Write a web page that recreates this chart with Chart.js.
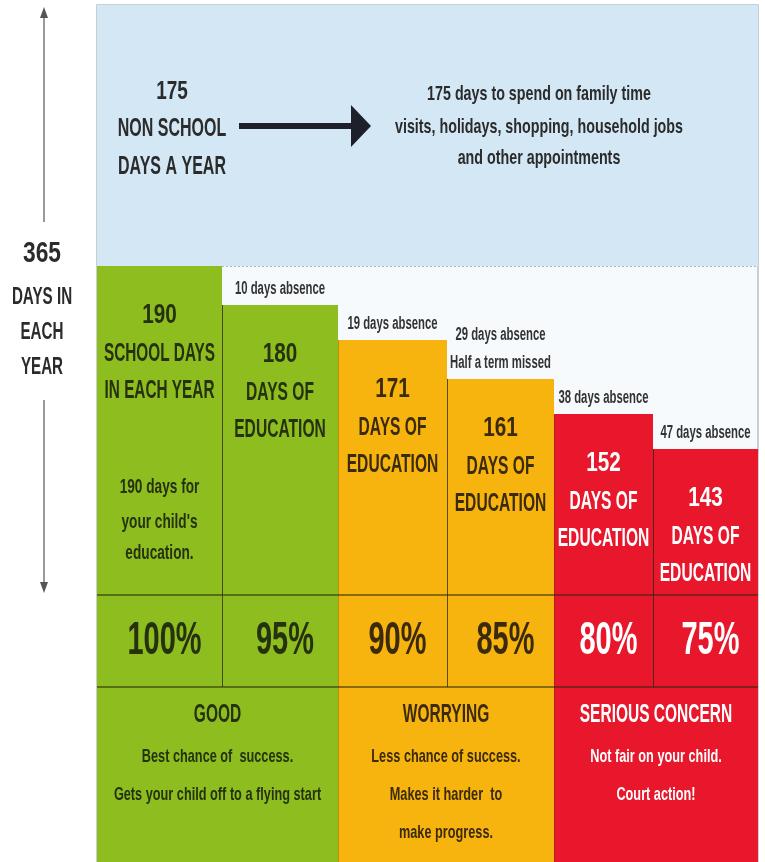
<!DOCTYPE html>
<html>
<head>
<meta charset="utf-8">
<script src="https://cdn.jsdelivr.net/npm/chart.js@4.4.1/dist/chart.umd.min.js"></script>
<style>
  html, body { margin: 0; padding: 0; background: #ffffff; }
  #wrap { width: 765px; height: 862px; }
</style>
</head>
<body>
<div id="wrap"><canvas id="attendance" width="765" height="862"></canvas></div>
<script>
// chart values
const daysOfEducation = [190, 180, 171, 161, 152, 143]
const absenceDays = [0, 10, 19, 29, 38, 47]
const attendance = ['100%', '95%', '90%', '85%', '80%', '75%']
const nonSchoolDays = 175
const yearDays = 365
const bands = ['GOOD', 'WORRYING', 'SERIOUS CONCERN']
const bandNotes = [
    ['Best chance of  success.', 'Gets your child off to a flying start'],
    ['Less chance of success.', 'Makes it harder  to', 'make progress.'],
    ['Not fair on your child.', 'Court action!']
]

// layout
const colWeights = [125, 116, 109, 107, 99, 105]
const colColors = ['#8dbd1e', '#8dbd1e', '#f7b40f', '#f7b40f', '#e8172b', '#e8172b']
const textColors = ['#26320f', '#26320f', '#3b2a0c', '#3b2a0c', '#ffffff', '#ffffff']
const FONT = '"Liberation Sans", Arial, sans-serif'

const edges = [0]
for (let w of colWeights) edges.push(edges[edges.length - 1] + w)
const total = edges[edges.length - 1]

const datasets = []
// non school days area above the school year
datasets.push({
    data: [{x: 0, y: daysOfEducation[0]}, {x: total, y: daysOfEducation[0]}],
    backgroundColor: '#d3e7f5', borderWidth: 0, pointRadius: 0, fill: 'end'
})
for (let i = 0; i < daysOfEducation.length; i++) {
    datasets.push({
        data: [{x: edges[i], y: daysOfEducation[i]}, {x: edges[i + 1], y: daysOfEducation[i]}],
        backgroundColor: colColors[i], borderWidth: 0, pointRadius: 0, fill: 'start'
    })
}
// dotted line at the school year level
datasets.push({
    data: [{x: edges[1], y: daysOfEducation[0]}, {x: total, y: daysOfEducation[0]}],
    borderColor: '#9aa3aa', borderWidth: 1.5, borderDash: [2, 2], pointRadius: 0, fill: false
})

// condensed text: squeeze the font horizontally
function text(ctx, str, x, y, size, color, sq) {
    ctx.save()
    ctx.font = 'bold ' + size + 'px ' + FONT
    ctx.fillStyle = color
    ctx.textAlign = 'center'
    ctx.textBaseline = 'middle'
    ctx.translate(x, y)
    ctx.scale(sq || 0.6, 1)
    ctx.fillText(str, 0, 0)
    ctx.restore()
}

const backdrop = {
    id: 'backdrop',
    beforeDatasetsDraw(chart) {
        const {ctx, chartArea: a} = chart
        const ys = chart.scales.y
        ctx.save()
        ctx.fillStyle = '#f7fafc'
        ctx.fillRect(a.left, a.top, a.right - a.left, ys.getPixelForValue(daysOfEducation[5]) - a.top)
        ctx.strokeStyle = '#b9c0c6'
        ctx.lineWidth = 1.5
        ctx.strokeRect(a.left, a.top, a.right - a.left, a.bottom)
        ctx.restore()
    }
}

const labels = {
    id: 'labels',
    afterDatasetsDraw(chart) {
        const {ctx, chartArea: a} = chart
        const xs = chart.scales.x, ys = chart.scales.y
        const px = v => xs.getPixelForValue(v)
        ctx.save()
        const pctTop = 595, pctBottom = 687

        // separators
        for (let i = 1; i < 6; i++) {
            const x = Math.round(px(edges[i])) + 0.5
            const top = ys.getPixelForValue(daysOfEducation[i])
            const inner = i % 2 == 1
            ctx.strokeStyle = inner ? 'rgba(40,40,20,0.75)' : 'rgba(60,50,20,0.3)'
            ctx.lineWidth = 1
            ctx.beginPath(); ctx.moveTo(x, top); ctx.lineTo(x, inner ? pctBottom : a.bottom); ctx.stroke()
        }
        ctx.strokeStyle = 'rgba(40,40,20,0.7)'
        ctx.lineWidth = 1.5
        for (let y of [pctTop, pctBottom]) {
            ctx.beginPath(); ctx.moveTo(a.left, y); ctx.lineTo(a.right, y); ctx.stroke()
        }

        // columns
        for (let i = 0; i < 6; i++) {
            const cx = (px(edges[i]) + px(edges[i + 1])) / 2
            const top = ys.getPixelForValue(daysOfEducation[i])
            const c = textColors[i]
            text(ctx, String(daysOfEducation[i]), cx, top + 49, 28, c, 0.74)
            if (i == 0) {
                text(ctx, 'SCHOOL DAYS', cx, top + 88, 26, c, 0.59)
                text(ctx, 'IN EACH YEAR', cx, top + 125, 26, c, 0.59)
                text(ctx, '190 days for', cx, top + 221, 21, c, 0.65)
                text(ctx, "your child's", cx, top + 256, 21, c, 0.65)
                text(ctx, 'education.', cx, top + 287, 21, c, 0.65)
            } else {
                text(ctx, 'DAYS OF', cx, top + 88, 26, c, 0.6)
                text(ctx, 'EDUCATION', cx, top + 125, 26, c, 0.6)
                if (absenceDays[i] == 29) {
                    text(ctx, absenceDays[i] + ' days absence', cx, top - 44, 18, '#333333', 0.63)
                    text(ctx, 'Half a term missed', cx, top - 16, 18, '#333333', 0.63)
                } else {
                    text(ctx, absenceDays[i] + ' days absence', cx, top - 16, 18, '#333333', 0.63)
                }
            }
            text(ctx, attendance[i], cx + 5, (pctTop + pctBottom) / 2, 46, c, 0.63)
        }

        // bands
        for (let b = 0; b < 3; b++) {
            const cx = (px(edges[b * 2]) + px(edges[b * 2 + 2])) / 2
            const c = textColors[b * 2]
            text(ctx, bands[b], cx, 715, 25, c, 0.62)
            bandNotes[b].forEach((line, k) => text(ctx, line, cx, 757 + k * 38, 19, c, 0.67))
        }

        // non school days
        const ink = '#2b2b2b'
        text(ctx, String(nonSchoolDays), 172, 92, 25, ink, 0.76)
        text(ctx, 'NON SCHOOL', 172, 129, 25, ink, 0.64)
        text(ctx, 'DAYS A YEAR', 172, 167, 25, ink, 0.64)
        ctx.fillStyle = '#1d1f2a'
        ctx.fillRect(239, 123, 114, 6)
        ctx.beginPath(); ctx.moveTo(351, 105); ctx.lineTo(371, 126); ctx.lineTo(351, 147); ctx.closePath(); ctx.fill()
        text(ctx, nonSchoolDays + ' days to spend on family time', 539, 94, 21, ink, 0.68)
        text(ctx, 'visits, holidays, shopping, household jobs', 539, 127, 21, ink, 0.68)
        text(ctx, 'and other appointments', 539, 158, 21, ink, 0.68)

        // year axis
        ctx.strokeStyle = '#555555'
        ctx.fillStyle = '#555555'
        ctx.lineWidth = 1.2
        ctx.beginPath(); ctx.moveTo(44, 14); ctx.lineTo(44, 222); ctx.stroke()
        ctx.beginPath(); ctx.moveTo(44, 400); ctx.lineTo(44, 586); ctx.stroke()
        ctx.beginPath(); ctx.moveTo(44, 7); ctx.lineTo(40, 18); ctx.lineTo(48, 18); ctx.closePath(); ctx.fill()
        ctx.beginPath(); ctx.moveTo(44, 593); ctx.lineTo(40, 582); ctx.lineTo(48, 582); ctx.closePath(); ctx.fill()
        text(ctx, String(yearDays), 42, 254, 30, ink, 0.76)
        text(ctx, 'DAYS IN', 42, 298, 23, ink, 0.66)
        text(ctx, 'EACH', 42, 333, 23, ink, 0.66)
        text(ctx, 'YEAR', 42, 368, 23, ink, 0.66)
        ctx.restore()
    }
}

const chart = new Chart(document.getElementById('attendance').getContext('2d'), {
    type: 'line',
    data: { datasets: datasets },
    options: {
        responsive: false,
        animation: false,
        layout: { padding: { left: 97, right: 7, top: 5, bottom: 0 } },
        plugins: { legend: { display: false }, tooltip: { enabled: false } },
        scales: {
            x: { type: 'linear', min: 0, max: total, display: false },
            y: { min: 37, max: 257, display: false }
        }
    },
    plugins: [backdrop, labels]
})
</script>
</body>
</html>
